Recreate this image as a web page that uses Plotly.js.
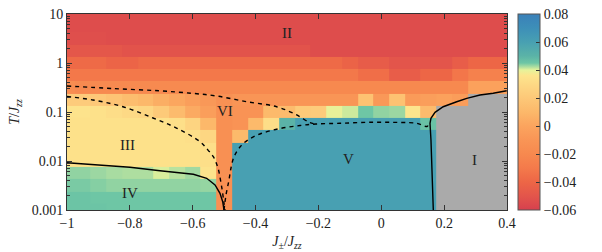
<!DOCTYPE html>
<html>
<head>
<meta charset="utf-8">
<script src="https://cdn.plot.ly/plotly-3.0.1.min.js"></script>
<style>html,body{margin:0;padding:0;background:#fff;}#chart{width:602px;height:252px;}</style>
</head>
<body>
<div id="chart"></div>
<script>
// column centres (J±/Jzz)
const jpm = [-1,-0.95,-0.9,-0.85,-0.8,-0.75,-0.7,-0.65,-0.6,-0.55,-0.5,-0.45,-0.4,-0.35,-0.3,-0.25,-0.2,-0.15,-0.1,-0.05,0,0.05,0.1,0.15,0.2,0.25,0.3,0.35,0.4];
// row edges (T/Jzz), log-spaced grid
const tEdges = [0.000749894,0.00133352,0.00237137,0.00421697,0.00749894,0.0133352,0.0237137,0.0421697,0.0749894,0.133352,0.237137,0.421697,0.749894,1.33352,2.37137,4.21697,7.49894,13.3352];
const N = null;
// rows from T=0.001 (bottom) to T=10 (top)
const r0  = [0.0455,0.0455,0.0455,0.045,0.045,0.045,0.045,0.045,0.045,0.045,-0.014,0.06,0.06,0.06,0.06,0.06,0.06,0.06,0.06,0.06,0.06,0.06,0.06,0.06,N,N,N,N,N];
const r1  = [0.0455,0.0455,0.045,0.045,0.045,0.045,0.045,0.045,0.045,0.045,-0.014,0.06,0.06,0.06,0.06,0.06,0.06,0.06,0.06,0.06,0.06,0.06,0.06,0.06,N,N,N,N,N];
const r2  = [0.0445,0.0445,0.044,0.0435,0.0435,0.0435,0.0435,0.0435,0.0435,0.0433,-0.014,0.06,0.06,0.06,0.06,0.06,0.06,0.06,0.06,0.06,0.06,0.06,0.06,0.06,N,N,N,N,N];
const r3  = [0.0435,0.0435,0.043,0.0425,0.0422,0.0422,0.0405,0.0418,0.0428,0.035,-0.014,0.06,0.06,0.06,0.06,0.06,0.06,0.06,0.06,0.06,0.06,0.06,0.06,0.06,N,N,N,N,N];
const r4  = [0.034,0.034,0.034,0.034,0.034,0.034,0.034,0.034,0.034,0.033,-0.014,0.06,0.06,0.06,0.06,0.06,0.06,0.06,0.06,0.06,0.06,0.06,0.06,0.06,N,N,N,N,N];
const r5  = [0.034,0.034,0.034,0.034,0.034,0.034,0.034,0.034,0.034,0.033,-0.014,0.06,0.06,0.06,0.06,0.06,0.06,0.06,0.06,0.06,0.06,0.06,0.06,0.06,N,N,N,N,N];
const r6  = [0.034,0.034,0.034,0.034,0.034,0.034,0.034,0.034,0.033,0.028,-0.014,0.011,0.06,0.06,0.06,0.06,0.06,0.06,0.06,0.06,0.06,0.06,0.06,0.06,N,N,N,N,N];
const r7  = [0.034,0.034,0.034,0.034,0.034,0.034,0.034,0.033,0.027,0.01,-0.014,-0.012,0.011,0.032,0.05,0.06,0.06,0.06,0.06,0.06,0.06,0.06,0.06,0.046,N,N,N,N,N];
const r8  = [0.035,0.035,0.034,0.032,0.03,0.028,0.021,0.012,0.003,-0.004,-0.014,-0.012,-0.012,0.011,0.012,0.021,0.022,0.0395,0.041,0.045,0.0435,0.043,0.036,0.012,N,N,N,N,N];
const r9  = [0.022,0.022,0.02,0.017,0.013,0.01,0.005,0.001,-0.004,-0.008,-0.013,-0.01,-0.01,-0.01,-0.01,-0.01,-0.01,-0.01,-0.01,0.016,-0.008,0.016,-0.006,-0.004,-0.002,-0.005,N,N,N];
const r10 = [-0.017,-0.019,-0.019,-0.019,-0.019,-0.019,-0.019,-0.019,-0.019,-0.02,-0.02,-0.02,-0.02,-0.02,-0.02,-0.02,-0.02,-0.02,-0.02,-0.02,-0.02,-0.02,-0.02,-0.02,-0.02,-0.02,-0.002,-0.002,-0.002];
const r11 = [-0.031,-0.031,-0.031,-0.031,-0.031,-0.031,-0.031,-0.031,-0.031,-0.031,-0.031,-0.031,-0.031,-0.031,-0.031,-0.031,-0.031,-0.031,-0.031,-0.036,-0.036,-0.045,-0.045,-0.04,-0.04,-0.032,-0.025,-0.025,-0.025];
const r12 = [-0.038,-0.038,-0.038,-0.041,-0.041,-0.038,-0.038,-0.038,-0.038,-0.038,-0.038,-0.038,-0.038,-0.038,-0.038,-0.038,-0.038,-0.038,-0.042,-0.046,-0.046,-0.05,-0.05,-0.05,-0.05,-0.045,-0.04,-0.04,-0.04];
const r13 = [-0.049,-0.049,-0.049,-0.049,-0.051,-0.051,-0.051,-0.051,-0.051,-0.051,-0.051,-0.051,-0.051,-0.051,-0.051,-0.051,-0.054,-0.054,-0.054,-0.054,-0.054,-0.054,-0.054,-0.054,-0.054,-0.054,-0.054,-0.054,-0.054];
const r14 = [-0.053,-0.053,-0.053,-0.054,-0.054,-0.054,-0.054,-0.054,-0.054,-0.054,-0.054,-0.054,-0.054,-0.054,-0.054,-0.054,-0.054,-0.054,-0.054,-0.054,-0.054,-0.054,-0.054,-0.054,-0.054,-0.054,-0.054,-0.054,-0.054];
const r15 = [-0.054,-0.054,-0.054,-0.054,-0.054,-0.054,-0.054,-0.054,-0.054,-0.054,-0.054,-0.054,-0.054,-0.054,-0.054,-0.054,-0.054,-0.054,-0.054,-0.054,-0.054,-0.054,-0.054,-0.054,-0.054,-0.054,-0.054,-0.054,-0.054];
const r16 = [-0.054,-0.054,-0.054,-0.054,-0.054,-0.054,-0.054,-0.054,-0.054,-0.054,-0.054,-0.054,-0.054,-0.054,-0.054,-0.054,-0.054,-0.054,-0.054,-0.054,-0.054,-0.054,-0.054,-0.054,-0.054,-0.054,-0.054,-0.054,-0.054];

// phase boundaries
const solidA_x = [-1,-0.7996,-0.704,-0.598,-0.5555,-0.529,-0.5132,-0.5046,-0.5005];
const solidA_t = [0.00923,0.00744,0.00634,0.00535,0.00444,0.00324,0.00219,0.00148,0.001];
const solidB_x = [0.1655,0.1623,0.1581,0.155,0.158,0.171,0.197,0.240,0.272,0.314,0.356,0.399];
const solidB_t = [0.001,0.00561,0.0268,0.0588,0.0743,0.0986,0.128,0.162,0.19,0.222,0.241,0.272];
const dashUp_x = [-1,-0.85,-0.704,-0.6,-0.524,-0.428,-0.333,-0.269,-0.227,-0.208];
const dashUp_t = [0.34,0.30,0.27,0.24,0.212,0.162,0.128,0.0869,0.0605,0.0569];
const dashLo_x = [-1,-0.9173,-0.8218,-0.7264,-0.65,-0.5768,-0.5514,-0.5339,-0.5196,-0.5116,-0.5053,-0.5005,-0.4973];
const dashLo_t = [0.207,0.176,0.128,0.0755,0.0465,0.0248,0.0167,0.0121,0.00719,0.00409,0.00233,0.00139,0.001];
const dashV_x = [-0.5005,-0.4941,-0.4846,-0.4782,-0.4687,-0.4496,-0.4241,-0.3859,-0.3223,-0.2587,-0.208,-0.1314,-0.036,0.0595,0.1136,0.1454,0.1486];
const dashV_t = [0.001,0.00202,0.00409,0.00719,0.0121,0.0193,0.0269,0.0356,0.046,0.053,0.0569,0.0588,0.0617,0.0611,0.0588,0.0506,0.053];

const labels = ['I','II','III','IV','V','VI'];
const label_x = [0.298,-0.30,-0.806,-0.80,-0.103,-0.497];
const label_t = [0.0105,4.1,0.0212,0.00222,0.011,0.105];

const cbTicks = [-0.06,-0.04,-0.02,0,0.02,0.04,0.06,0.08];

const colorscale = [
 [0,'#d6404e'],[0.0714,'#e3554b'],[0.1429,'#ed6646'],[0.2143,'#f47a4b'],
 [0.2857,'#f7894f'],[0.3571,'#f99556'],[0.4286,'#fba45e'],[0.5,'#fcb86a'],
 [0.5714,'#fdc878'],[0.6429,'#fdd985'],[0.6857,'#fde58d'],[0.7143,'#e6f39b'],
 [0.7286,'#b3e0a0'],[0.75,'#6ec6a5'],[0.7857,'#5bb3a7'],[0.8571,'#48a0b2'],
 [0.9286,'#3d8fb8'],[1,'#3a80b9']];

const serif = 'Liberation Serif, DejaVu Serif, serif';

const traces = [
 {type:'heatmap', x:jpm, y:tEdges, z:[r0,r1,r2,r3,r4,r5,r6,r7,r8,r9,r10,r11,r12,r13,r14,r15,r16],
  zmin:-0.06, zmax:0.08, colorscale:colorscale, hoverongaps:false,
  colorbar:{x:1.025, xanchor:'left', xpad:0, y:0.5, len:1, lenmode:'fraction', yanchor:'middle', ypad:0,
   thickness:22, outlinewidth:1, outlinecolor:'#555', tickvals:cbTicks, ticks:'inside', ticklen:4, tickcolor:'#333',
   tickfont:{family:serif, size:14, color:'#222'}}},
 {type:'scatter', mode:'lines', x:solidA_x, y:solidA_t, line:{color:'#000', width:1.4}, showlegend:false, hoverinfo:'skip'},
 {type:'scatter', mode:'lines', x:solidB_x, y:solidB_t, line:{color:'#000', width:1.4}, showlegend:false, hoverinfo:'skip'},
 {type:'scatter', mode:'lines', x:dashUp_x, y:dashUp_t, line:{color:'#000', width:1.4, dash:'4px,4px', shape:'spline'}, showlegend:false, hoverinfo:'skip'},
 {type:'scatter', mode:'lines', x:dashLo_x, y:dashLo_t, line:{color:'#000', width:1.4, dash:'4px,4px', shape:'spline'}, showlegend:false, hoverinfo:'skip'},
 {type:'scatter', mode:'lines', x:dashV_x, y:dashV_t, line:{color:'#000', width:1.4, dash:'4px,4px', shape:'spline'}, showlegend:false, hoverinfo:'skip'}
];

const annotations = labels.map((s,i)=>({x:label_x[i], y:Math.log10(label_t[i]), xref:'x', yref:'y', text:s,
  showarrow:false, font:{family:serif, size:15, color:'#222'}}));

const minorT = [];
[0.001,0.01,0.1,1].forEach(d=>{for(let k=2;k<=9;k++) minorT.push(d*k);});

const layout = {
 width:602, height:252, margin:{l:67, r:95, t:14, b:42},
 paper_bgcolor:'#fff', plot_bgcolor:'#aaaaaa', showlegend:false,
 font:{family:serif, size:14, color:'#222'},
 annotations:annotations,
 xaxis:{range:[-1,0.4], tickvals:[-1,-0.8,-0.6,-0.4,-0.2,0,0.2,0.4], ticks:'inside', ticklen:5, tickcolor:'#333',
  showline:true, linecolor:'#333', linewidth:1, mirror:'ticks', showgrid:false, zeroline:false,
  tickfont:{family:serif, size:14, color:'#222'},
  title:{text:'<i>J</i><sub>±</sub>/<i>J</i><sub><i>zz</i></sub>', font:{family:serif, size:14, color:'#222'}, standoff:6}},
 yaxis:{type:'log', range:[-3,1], tickvals:[0.001,0.01,0.1,1,10], ticktext:['0.001','0.01','0.1','1','10'],
  ticks:'inside', ticklen:5, tickcolor:'#333', showline:true, linecolor:'#333', linewidth:1, mirror:'ticks',
  showgrid:false, zeroline:false, tickfont:{family:serif, size:14, color:'#222'},
  minor:{tickvals:minorT, ticks:'inside', ticklen:3, tickcolor:'#333'},
  title:{text:'<i>T</i>/<i>J</i><sub><i>zz</i></sub>', font:{family:serif, size:14, color:'#222'}, standoff:8}}
};

Plotly.newPlot('chart', traces, layout, {staticPlot:true, displayModeBar:false});
</script>
</body>
</html>
